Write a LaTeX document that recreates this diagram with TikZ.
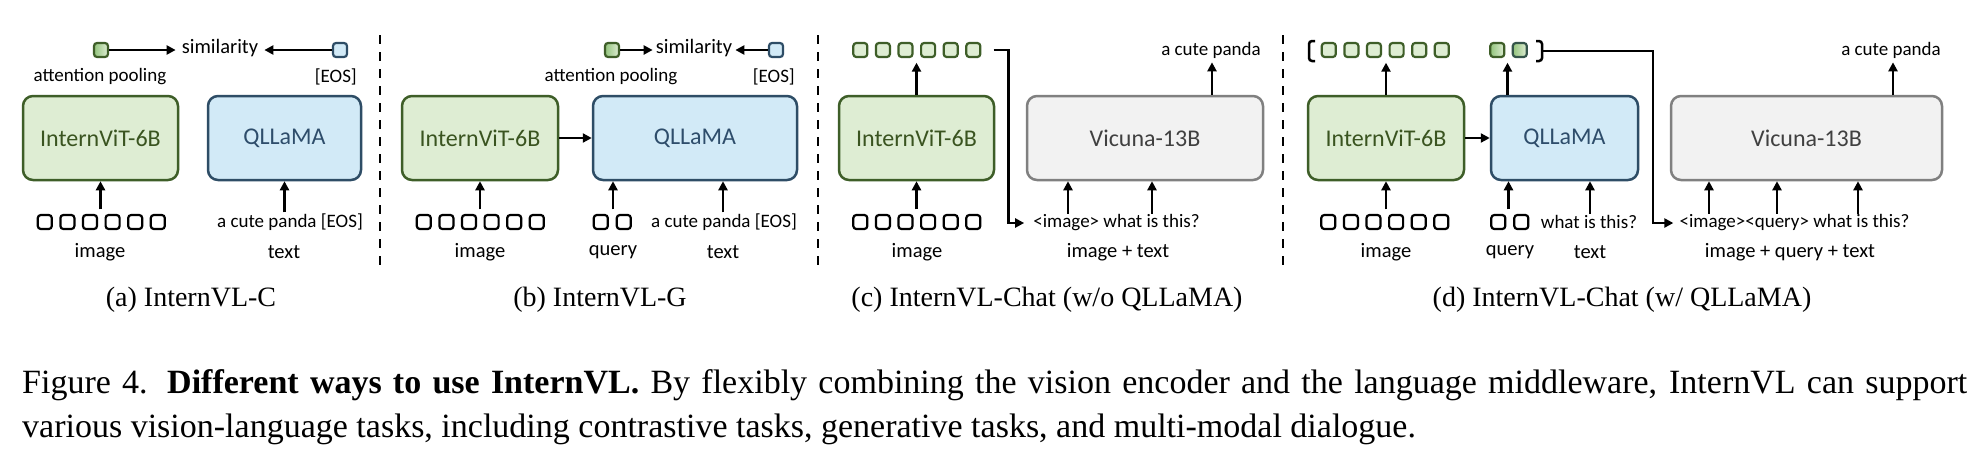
\documentclass[tikz,border=0pt]{standalone}
\usepackage{fontspec}
\setmainfont{Liberation Serif}
\newfontfamily\calib{Carlito}
\usetikzlibrary{arrows.meta,calc}
\definecolor{gfill}{HTML}{DEEDD3}
\definecolor{gline}{HTML}{3E5E28}
\definecolor{gtext}{HTML}{3A5420}
\definecolor{gdark}{HTML}{93C47D}
\definecolor{bfill}{HTML}{D2EAF7}
\definecolor{bline}{HTML}{2E4D66}
\definecolor{btext}{HTML}{2E4D6B}
\definecolor{vfill}{HTML}{F2F2F2}
\definecolor{vline}{HTML}{808080}
\definecolor{vtext}{HTML}{404040}
\begin{document}
\begin{tikzpicture}[x=1pt,y=-1pt,
  box/.style={draw,rounded corners=10pt,line width=2.5pt,minimum height=84pt,inner sep=0pt,font=\calib\fontsize{24}{28}\selectfont},
  vitbox/.style={box,draw=gline,fill=gfill,text=gtext,minimum width=155pt},
  qlbox/.style={box,draw=bline,fill=bfill,text=btext},
  vicbox/.style={box,draw=vline,fill=vfill,text=vtext},
  tok/.style={draw=black,line width=2.2pt,rounded corners=3pt,minimum size=14pt,inner sep=0pt,fill=white},
  gtok/.style={tok,draw=gline,fill=gfill},
  shtok/.style={tok,draw=gline,left color=gdark,right color=gfill},
  btok/.style={tok,draw=bline,fill=bfill},
  row/.style={minimum width=129pt,minimum height=17pt,inner sep=0pt},
  qrow/.style={minimum width=39pt,minimum height=17pt,inner sep=0pt},
  sm/.style={font=\calib\fontsize{19}{22}\selectfont,inner sep=1pt},
  lab/.style={font=\calib\fontsize{20.5}{24}\selectfont,inner sep=1pt},
  simtxt/.style={font=\calib\fontsize{20.5}{24}\selectfont,inner sep=6pt},
  subcap/.style={font=\fontsize{28}{32}\selectfont,inner sep=0pt},
  arr/.style={-{Triangle[length=9pt,width=9pt]},line width=2.5pt},
  link/.style={-{Triangle[length=9pt,width=9pt]},line width=2.5pt},
  brk/.style={line width=2.5pt,rounded corners=3pt},
  sepline/.style={dash pattern=on 9pt off 8pt,line width=2.5pt}
]
\useasboundingbox[fill=white] (0,0) rectangle (1981,456);

% ---------------- separators
\coordinate (s1t) at (380,35);  \coordinate (s1b) at (380,268);
\coordinate (s2t) at (818,35);  \coordinate (s2b) at (818,268);
\coordinate (s3t) at (1283,35); \coordinate (s3b) at (1283,268);
\draw[sepline] (s1t) -- (s1b);
\draw[sepline] (s2t) -- (s2b);
\draw[sepline] (s3t) -- (s3b);

% ---------------- (a) InternVL-C
\node[vitbox] (vitA) at (100.5,138) {InternViT-6B};
\node[qlbox,minimum width=153pt] (qA) at (284.5,138) {QLLaMA};
\node[shtok] (gsA) at (101,50) {};
\node[btok] (bsA) at (340,50) {};
\node[simtxt] (simA) at (220,48) {similarity};
\draw[arr] (gsA) -- (gsA -| simA.west);
\draw[arr] (bsA) -- (bsA -| simA.east);
\node[sm] (apA) at (100,77) {attention pooling};
\node[sm,anchor=east] (eosA) at (358,77) {[EOS]};
\node[row] (imgA) at (101.5,222) {};
\foreach \i in {0,...,5} \node[tok] (imgA-\i) at ($(imgA.west)+(8+\i*22.6,0)$) {};
\draw[arr] ([yshift=4pt]vitA.south |- imgA.north) -- (vitA.south);
\node[sm] (txA) at (290,222) {a cute panda [EOS]};
\draw[arr] (qA.south |- txA.north) -- (qA.south);
\node[lab] (liA) at (100,252) {image};
\node[lab] (ltA) at (284,252) {text};
\node[subcap] (cA) at (191,300) {(a) InternVL-C};

% ---------------- (b) InternVL-G
\node[vitbox,minimum width=156pt] (vitB) at (480,138) {InternViT-6B};
\node[qlbox,minimum width=204pt] (qB) at (695,138) {QLLaMA};
\draw[arr] (vitB) -- (qB);
\node[shtok] (gsB) at (612,50) {};
\node[btok] (bsB) at (776,50) {};
\node[simtxt,inner sep=3pt] (simB) at (694,48) {similarity};
\draw[arr] (gsB) -- (gsB -| simB.west);
\draw[arr] (bsB) -- (bsB -| simB.east);
\node[sm] (apB) at (611,77) {attention pooling};
\node[sm,anchor=east] (eosB) at (796,77) {[EOS]};
\node[row] (imgB) at (480.5,222) {};
\foreach \i in {0,...,5} \node[tok] (imgB-\i) at ($(imgB.west)+(8+\i*22.6,0)$) {};
\draw[arr] ([yshift=4pt]vitB.south |- imgB.north) -- (vitB.south);
\node[qrow] (qyB) at (612.5,222) {};
\foreach \i in {0,1} \node[tok] (qyB-\i) at ($(qyB.west)+(8+\i*23,0)$) {};
\coordinate (qinB) at ([xshift=-82pt]qB.south);
\draw[arr] ([yshift=4pt]qinB |- qyB.north) -- (qinB);
\node[sm] (txB) at (724,222) {a cute panda [EOS]};
\coordinate (tinB) at ([xshift=28pt]qB.south);
\draw[arr] (tinB |- txB.north) -- (tinB);
\node[lab] (liB) at (480,252) {image};
\node[lab] (lqB) at (613,252) {query};
\node[lab] (ltB) at (723,252) {text};
\node[subcap] (cB) at (600,300) {(b) InternVL-G};

% ---------------- (c) InternVL-Chat (w/o QLLaMA)
\node[vitbox] (vitC) at (916.5,138) {InternViT-6B};
\node[vicbox,minimum width=236pt] (vicC) at (1145,138) {Vicuna-13B};
\node[row] (topC) at (917,50) {};
\foreach \i in {0,...,5} \node[gtok] (topC-\i) at ($(topC.west)+(8+\i*22.6,0)$) {};
\draw[arr] (vitC.north) -- ([yshift=-4pt]vitC.north |- topC.south);
\node[row] (imgC) at (917,222) {};
\foreach \i in {0,...,5} \node[tok] (imgC-\i) at ($(imgC.west)+(8+\i*22.6,0)$) {};
\draw[arr] ([yshift=4pt]vitC.south |- imgC.north) -- (vitC.south);
\node[sm] (qtxC) at (1116.5,223) {<image> what is this?};
\draw[link] ([xshift=12pt]topC.east) -- ++(15,0) |- ([xshift=-8pt]qtxC.west);
\coordinate (in1C) at ([xshift=-77pt]vicC.south);
\coordinate (in2C) at ([xshift=7pt]vicC.south);
\draw[arr] (in1C |- qtxC.north) -- (in1C);
\draw[arr] (in2C |- qtxC.north) -- (in2C);
\node[sm] (outC) at (1211,50) {a cute panda};
\coordinate (oC) at ([xshift=67pt]vicC.north);
\draw[arr] (oC) -- ([yshift=-3pt]oC |- outC.south);
\node[lab] (liC) at (917,252) {image};
\node[lab] (litC) at (1118,252) {image + text};
\node[subcap] (cC) at (1047,300) {(c) InternVL-Chat (w/o QLLaMA)};

% ---------------- (d) InternVL-Chat (w/ QLLaMA)
\node[vitbox,minimum width=156pt] (vitD) at (1386,138) {InternViT-6B};
\node[qlbox,minimum width=147pt] (qD) at (1564.5,138) {QLLaMA};
\draw[arr] (vitD) -- (qD);
\node[vicbox,minimum width=271pt] (vicD) at (1806.5,138) {Vicuna-13B};
\node[row] (topD) at (1385.5,50) {};
\foreach \i in {0,...,5} \node[gtok] (topD-\i) at ($(topD.west)+(8+\i*22.6,0)$) {};
\node[qrow] (tqD) at (1509,50) {};
\node[shtok] (tqD-0) at ($(tqD.west)+(8,0)$) {};
\node[shtok,draw=gline!45!bline] (tqD-1) at ($(tqD.west)+(30.5,0)$) {};
\draw[brk] (1315,41) -- (1309,41) -- (1309,61) -- (1315,61);
\draw[brk] (1536,41) -- (1542,41) -- (1542,61) -- (1536,61);
\coordinate (rbrD) at (1542,51);
\draw[arr] (vitD.north) -- ([yshift=-4pt]vitD.north |- topD.south);
\coordinate (qoD) at ([xshift=-57pt]qD.north);
\draw[arr] (qoD) -- ([yshift=-4pt]qoD |- tqD.south);
\node[row] (imgD) at (1385,222) {};
\foreach \i in {0,...,5} \node[tok] (imgD-\i) at ($(imgD.west)+(8+\i*22.6,0)$) {};
\draw[arr] ([yshift=4pt]vitD.south |- imgD.north) -- (vitD.south);
\node[qrow] (qyD) at (1510,222) {};
\foreach \i in {0,1} \node[tok] (qyD-\i) at ($(qyD.west)+(8+\i*23,0)$) {};
\coordinate (qinD) at ([xshift=-56pt]qD.south);
\draw[arr] ([yshift=4pt]qinD |- qyD.north) -- (qinD);
\node[sm] (txD) at (1589,222) {what is this?};
\coordinate (tinD) at ([xshift=25.5pt]qD.south);
\draw[arr] (tinD |- txD.north) -- (tinD);
\node[sm] (qtxD) at (1794.5,223) {<image><query> what is this?};
\draw[link] (rbrD) -- ++(111,0) |- ([xshift=-5pt]qtxD.west);
\coordinate (in1D) at ([xshift=-97.5pt]vicD.south);
\coordinate (in2D) at ([xshift=-29.5pt]vicD.south);
\coordinate (in3D) at ([xshift=51.5pt]vicD.south);
\draw[arr] (in1D |- qtxD.north) -- (in1D);
\draw[arr] (in2D |- qtxD.north) -- (in2D);
\draw[arr] (in3D |- qtxD.north) -- (in3D);
\node[sm] (outD) at (1891,50) {a cute panda};
\coordinate (oD) at ([xshift=86.5pt]vicD.north);
\draw[arr] (oD) -- ([yshift=-3pt]oD |- outD.south);
\node[lab] (liD) at (1386,252) {image};
\node[lab] (lqD) at (1510,252) {query};
\node[lab] (ltD) at (1590,252) {text};
\node[lab] (liqtD) at (1790,252) {image + query + text};
\node[subcap] (cD) at (1622,300) {(d) InternVL-Chat (w/ QLLaMA)};

% ---------------- figure caption
\node[anchor=base west,inner sep=0pt,font=\fontsize{34}{44}\selectfont] (cap1) at (22,393)
  {\makebox[1945pt][s]{Figure 4. \textbf{Different ways to use InternVL.} By flexibly combining the vision encoder and the language middleware, InternVL can support}};
\node[anchor=base west,inner sep=0pt,font=\fontsize{34}{44}\selectfont] (cap2) at (22,437)
  {various vision-language tasks, including contrastive tasks, generative tasks, and multi-modal dialogue.};
\end{tikzpicture}
\end{document}
